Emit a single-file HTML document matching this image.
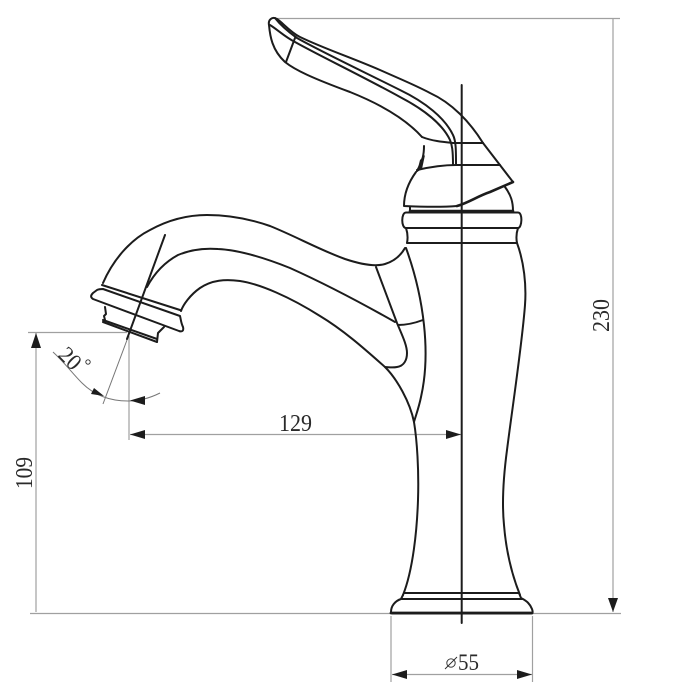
<!DOCTYPE html>
<html><head><meta charset="utf-8"><style>
html,body{margin:0;padding:0;background:#fff}
svg{display:block}
text{font-family:"Liberation Serif",serif;fill:#2a2a2a}
</style></head><body>
<svg width="700" height="700" viewBox="0 0 700 700" xmlns="http://www.w3.org/2000/svg">
<rect width="700" height="700" fill="#fff"/>
<!-- dimension lines -->
<g fill="none" stroke="#a0a0a0" stroke-width="1.2">
<path d="M275 18.5H620"/>
<path d="M613 18V612"/>
<path d="M30 613.5H390M533 613.5H621"/>
<path d="M28 332.5H127"/>
<path d="M36 333V612"/>
<path d="M129 336V440"/>
<path d="M130 434.5H461"/>
<path d="M391 616V682M532.5 616V682"/>
<path d="M392 674.5H532"/>
</g>
<g fill="none" stroke="#777" stroke-width="1">
<path d="M127 340L103 404"/>
<path d="M53 352C65 363 72 373 82 383C93 394 108 401 128 401C140 401 150 398 160 393"/>
</g>
<g fill="#1c1c1c">
<path d="M613 612L608 598H618Z"/>
<path d="M36 333L31 348H41Z"/>
<path d="M130 434.5L145 430V439Z"/>
<path d="M461 434.5L446 430V439Z"/>
<path d="M392 674.5L407 670V679Z"/>
<path d="M532 674.5L517 670V679Z"/>
<path d="M104 396L91 394L94 388Z"/>
<path d="M130 400.5L145 396V405Z"/>
</g>
<!-- faucet -->
<g fill="none" stroke="#1c1c1c" stroke-width="2" stroke-linejoin="round" stroke-linecap="round">
<!-- center lines -->
<path d="M461.7 85V623"/>
<path d="M165 235L127 339"/>
<!-- lever -->
<path d="M483 143C470 122 452 103 430 93C415 85 400 79 380 70C350 57 325 49 300 37C290 32 282 22 277 19C272 16 268 20 269 25C270 36 272 50 285 62C295 70 312 78 350 92C380 104 405 118 422 137"/>
<path d="M483 143L513 182"/>
<path d="M275 18C282 27 290 33 297 38C320 51 360 70 400 90C425 102 445 118 453 135C456 141 456 150 456 165"/>
<path d="M270 25C278 30 285 37 295 42C320 56 360 75 400 97C425 110 443 125 450 140C452 145 453 150 453 165"/>
<path d="M295 38L286 62"/>
<path d="M422 137C432 141 443 142 453 143L483 143"/>
<path d="M424 146C424 154 423 160 417 171"/>
<path d="M417 170C430 167 445 165 456 165H500"/>
<!-- dome -->
<path d="M416 172C408 183 404 195 404 206C425 207 445 207 457 206"/>
<path d="M457 206C468 203 478 196 490 192L513 182" stroke-width="2.6"/>
<path d="M505 187C511 195 513 202 513 211"/>
<path d="M410 207V211"/>
<path d="M410 211H513" stroke-width="2.6"/>
<!-- ring -->
<path d="M406 212.5H518C523 212.5 522 228 518 228H406C401 228 401 212.5 406 212.5Z"/>
<path d="M406 228C408 234 408 238 407 243H517C516 238 516 234 518 228"/>
<!-- body right -->
<path d="M517 243C524 262 526.5 285 525 305C522 345 512 410 507 450C503 480 502 505 504 525C506 550 512 575 520 595"/>
<!-- body left -->
<path d="M406 248C414 270 421 297 424 325C427 353 426 375 421 397C419 407 416 415 414 422C417 440 419 470 418 500C417 530 413 570 403 595"/>
<!-- base -->
<path d="M404 593H519"/>
<path d="M402 599H522"/>
<path d="M403 595L401 599C395 601 391 606 391 612C391 613 392 613.5 393 613.5H531C533 613.5 533 612 532 609C530 604 527 601 521 598L519 593"/>
<path d="M391 613H532" stroke-width="2.8"/>
<!-- spout -->
<path d="M103 283C113 260 130 240 150 230C170 219 190 215 207 215C230 215 250 219 270 226C295 236 320 250 345 259C360 264 375 267 385 264C395 261 401 255 405 248"/>
<path d="M147 287C155 272 165 262 178 255C192 249 205 248 218 249C240 250 265 258 290 268C330 286 365 305 395 322"/>
<path d="M181 311C183 305 190 295 200 288C212 280 225 279 240 281C260 284 290 297 320 316C345 331 368 352 385 367C397 379 410 402 414 422"/>
<path d="M376 267L397 323C402 335 407 345 407 353C407 360 404 366 397 367C392 368 388 367 385 367"/>
<path d="M398 325C407 325 415 323 423 320"/>
<!-- aerator -->
<path d="M102 285L180 310"/>
<path d="M97 290C99 289 101 289 103 289L180 316C181 320 181 323 183 327C184 331 182 332 179 331L93 299C90 297 91 295 93 293Z"/>
<path d="M105 307L106 314L104 316L105 320L103 322L157 342"/>
<path d="M103 320L157 339"/>
<path d="M157 342L158 333L164 327"/>
</g>
<path d="M425 155L422 169L417 172L420 160Z" fill="#1c1c1c"/>
<text x="279" y="431" font-size="24" textLength="33" lengthAdjust="spacingAndGlyphs">129</text>
<text transform="translate(32 489) rotate(-90)" font-size="24" textLength="32" lengthAdjust="spacingAndGlyphs">109</text>
<text transform="translate(609 332) rotate(-90)" font-size="24" textLength="33" lengthAdjust="spacingAndGlyphs">230</text>
<text x="458" y="670" font-size="23" textLength="21" lengthAdjust="spacingAndGlyphs">55</text>
<circle cx="451" cy="663" r="4.2" fill="none" stroke="#2a2a2a" stroke-width=".9"/>
<path d="M445 669L457 657" stroke="#2a2a2a" stroke-width=".9"/>
<text transform="translate(57 356) rotate(45)" font-size="23" textLength="22" lengthAdjust="spacingAndGlyphs">20</text>
<circle cx="88" cy="362" r="2.2" fill="none" stroke="#2a2a2a" stroke-width=".9"/>
</svg>
</body></html>
